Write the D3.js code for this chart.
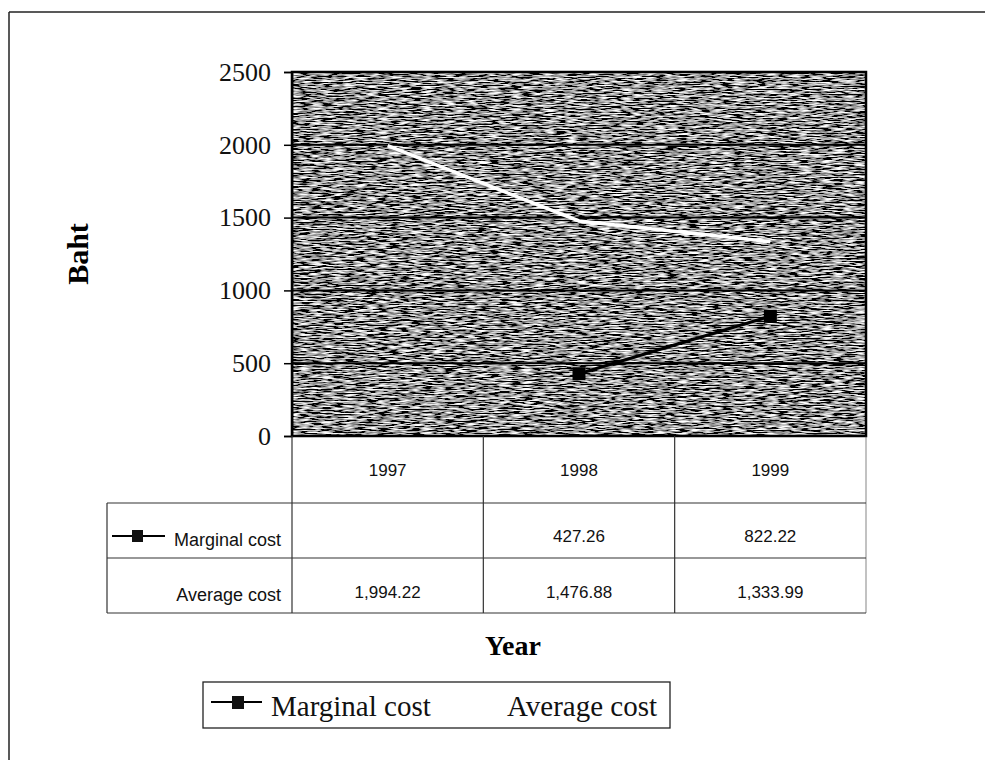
<!DOCTYPE html>
<html>
<head>
<meta charset="utf-8">
<script src="https://cdn.jsdelivr.net/npm/d3@7"></script>
<style>
  body { margin: 0; background: #fff; }
  svg { display: block; }
</style>
</head>
<body>
<div id="chart"></div>
<script>
// data
var years = ["1997", "1998", "1999"];
var marginalCost = [null, 427.26, 822.22];
var averageCost = [1994.22, 1476.88, 1333.99];
var marginalLabels = ["", "427.26", "822.22"];
var averageLabels = ["1,994.22", "1,476.88", "1,333.99"];
var yTicks = [0, 500, 1000, 1500, 2000, 2500];

var W = 985, H = 766;
var serif = "'Liberation Serif', 'Times New Roman', serif";
var sans = "'Liberation Sans', Arial, sans-serif";

var svg = d3.select("#chart").append("svg")
  .attr("width", W)
  .attr("height", H);

// page frame (top + left edges only, like the scan)
svg.append("line").attr("x1", 9).attr("y1", 12).attr("x2", W).attr("y2", 12)
  .attr("stroke", "#222").attr("stroke-width", 1.5);
svg.append("line").attr("x1", 9).attr("y1", 12).attr("x2", 9).attr("y2", 760)
  .attr("stroke", "#222").attr("stroke-width", 1.5);

var x = d3.scaleBand().domain(years).range([292, 866]);
var y = d3.scaleLinear().domain([0, 2500]).range([436, 72]);

// noisy scanned fill for the plot area
var defs = svg.append("defs");
var f = defs.append("filter").attr("id", "tex")
  .attr("x", 0).attr("y", 0).attr("width", 1).attr("height", 1);
f.append("feTurbulence")
  .attr("type", "fractalNoise")
  .attr("baseFrequency", "0.09 0.75")
  .attr("numOctaves", 2)
  .attr("seed", 7)
  .attr("result", "n");
f.append("feColorMatrix").attr("type", "matrix")
  .attr("values", "1 0 0 0 0  1 0 0 0 0  1 0 0 0 0  0 0 0 0 1");
var ct = f.append("feComponentTransfer");
["feFuncR", "feFuncG", "feFuncB"].forEach(function(fn) {
  ct.append(fn).attr("type", "linear").attr("slope", 3.2).attr("intercept", -1.3);
});

svg.append("rect")
  .attr("x", x.range()[0]).attr("y", y(2500))
  .attr("width", x.range()[1] - x.range()[0])
  .attr("height", y(0) - y(2500))
  .attr("fill", "#777")
  .attr("filter", "url(#tex)");

// gridlines
svg.append("g").selectAll("line")
  .data(yTicks.filter(function(d) { return d > 0 && d < 2500; }))
  .join("line")
  .attr("x1", x.range()[0]).attr("x2", x.range()[1])
  .attr("y1", function(d) { return y(d); })
  .attr("y2", function(d) { return y(d); })
  .attr("stroke", "#000").attr("stroke-width", 2);

// plot frame
svg.append("rect")
  .attr("x", x.range()[0]).attr("y", y(2500))
  .attr("width", x.range()[1] - x.range()[0])
  .attr("height", y(0) - y(2500))
  .attr("fill", "none").attr("stroke", "#000").attr("stroke-width", 2.5);

// y axis
var yAxis = svg.append("g")
  .attr("transform", "translate(" + x.range()[0] + ",0)")
  .call(d3.axisLeft(y).tickValues(yTicks).tickSize(8).tickPadding(13).tickFormat(d3.format("d")));
yAxis.select(".domain").attr("stroke", "#000").attr("stroke-width", 1.5);
yAxis.selectAll(".tick line").attr("stroke", "#000").attr("stroke-width", 1.5);
yAxis.selectAll("text")
  .attr("font-family", serif).attr("font-size", 26).attr("fill", "#111");

svg.append("text")
  .attr("transform", "translate(88,254) rotate(-90)")
  .attr("text-anchor", "middle")
  .attr("font-family", serif).attr("font-weight", "bold").attr("font-size", 30)
  .text("Baht");

// series lines
var cx = function(i) { return x(years[i]) + x.bandwidth() / 2; };

var avgLine = d3.line()
  .x(function(d, i) { return cx(i); })
  .y(function(d) { return y(d); });
svg.append("path")
  .attr("d", avgLine(averageCost))
  .attr("fill", "none").attr("stroke", "#fff").attr("stroke-width", 3.5);

var mcLine = d3.line()
  .defined(function(d) { return d != null; })
  .x(function(d, i) { return cx(i); })
  .y(function(d) { return y(d); });
svg.append("path")
  .attr("d", mcLine(marginalCost))
  .attr("fill", "none").attr("stroke", "#000").attr("stroke-width", 3);
svg.append("g").selectAll("rect")
  .data(marginalCost.map(function(v, i) { return { v: v, i: i }; })
    .filter(function(d) { return d.v != null; }))
  .join("rect")
  .attr("x", function(d) { return cx(d.i) - 6.5; })
  .attr("y", function(d) { return y(d.v) - 6.5; })
  .attr("width", 13).attr("height", 13)
  .attr("fill", "#000");

// data table under the plot
var rowTop = [436, 503, 558];
var rowBot = [503, 558, 613];
var tableLeft = 107;
var tbl = svg.append("g").attr("stroke", "#333").attr("stroke-width", 1.2);
// horizontal rules
tbl.append("line").attr("x1", tableLeft).attr("x2", 866).attr("y1", rowTop[1]).attr("y2", rowTop[1]);
tbl.append("line").attr("x1", tableLeft).attr("x2", 866).attr("y1", rowTop[2]).attr("y2", rowTop[2]);
tbl.append("line").attr("x1", tableLeft).attr("x2", 866).attr("y1", rowBot[2]).attr("y2", rowBot[2]);
tbl.append("line").attr("x1", tableLeft).attr("x2", tableLeft).attr("y1", rowTop[1]).attr("y2", rowBot[2]);
// column separators
var colEdges = years.map(function(d) { return x(d); }).concat([x.range()[1]]);
tbl.selectAll("line.col").data(colEdges).join("line").attr("class", "col")
  .attr("x1", function(d) { return d; }).attr("x2", function(d) { return d; })
  .attr("y1", 436).attr("y2", rowBot[2])
  .attr("stroke-width", function(d, i) { return i === colEdges.length - 1 ? 0.6 : 1.2; });

var cellText = svg.append("g")
  .attr("font-family", sans).attr("font-size", 17).attr("fill", "#111")
  .attr("text-anchor", "middle");
cellText.selectAll("text.yr").data(years).join("text").attr("class", "yr")
  .attr("x", function(d, i) { return cx(i); }).attr("y", 476).text(function(d) { return d; });
cellText.selectAll("text.mc").data(marginalLabels).join("text").attr("class", "mc")
  .attr("x", function(d, i) { return cx(i); }).attr("y", 542).text(function(d) { return d; });
cellText.selectAll("text.ac").data(averageLabels).join("text").attr("class", "ac")
  .attr("x", function(d, i) { return cx(i); }).attr("y", 598).text(function(d) { return d; });

// row labels with legend keys
svg.append("text").attr("x", 281).attr("y", 546).attr("text-anchor", "end")
  .attr("font-family", sans).attr("font-size", 18).attr("fill", "#111").text("Marginal cost");
svg.append("text").attr("x", 281).attr("y", 601).attr("text-anchor", "end")
  .attr("font-family", sans).attr("font-size", 18).attr("fill", "#111").text("Average cost");
svg.append("line").attr("x1", 112).attr("x2", 165).attr("y1", 536).attr("y2", 536)
  .attr("stroke", "#000").attr("stroke-width", 2);
svg.append("rect").attr("x", 132).attr("y", 530).attr("width", 11).attr("height", 12).attr("fill", "#111");

// x axis title
svg.append("text").attr("x", 513).attr("y", 655).attr("text-anchor", "middle")
  .attr("font-family", serif).attr("font-weight", "bold").attr("font-size", 28)
  .text("Year");

// legend
var lg = svg.append("g");
lg.append("rect").attr("x", 203).attr("y", 682).attr("width", 467).attr("height", 46)
  .attr("fill", "#fff").attr("stroke", "#222").attr("stroke-width", 1.3);
lg.append("line").attr("x1", 211).attr("x2", 262).attr("y1", 702).attr("y2", 702)
  .attr("stroke", "#000").attr("stroke-width", 2);
lg.append("rect").attr("x", 232).attr("y", 696).attr("width", 12).attr("height", 13).attr("fill", "#111");
lg.append("text").attr("x", 271).attr("y", 716)
  .attr("font-family", serif).attr("font-size", 29).attr("fill", "#111").text("Marginal cost");
lg.append("line").attr("x1", 450).attr("x2", 500).attr("y1", 702).attr("y2", 702)
  .attr("stroke", "#fff").attr("stroke-width", 3);
lg.append("text").attr("x", 507).attr("y", 716)
  .attr("font-family", serif).attr("font-size", 29).attr("fill", "#111").text("Average cost");
</script>
</body>
</html>
